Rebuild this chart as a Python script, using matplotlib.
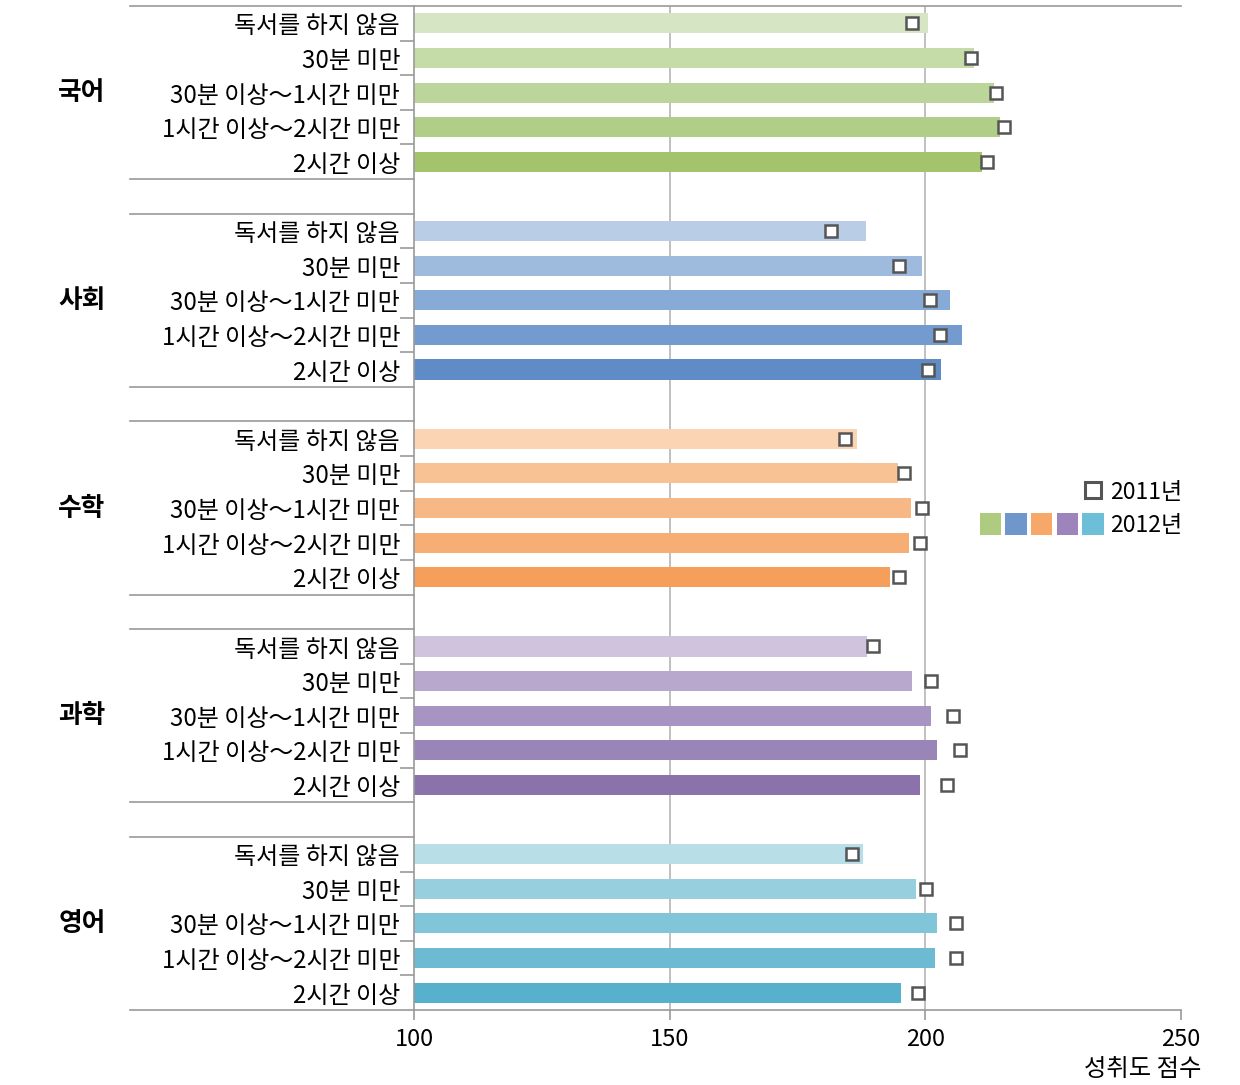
import matplotlib

matplotlib.use("Agg")
import matplotlib.pyplot as plt
from matplotlib.legend_handler import HandlerTuple
from matplotlib.lines import Line2D
from matplotlib.patches import Patch

plt.rcParams["font.family"] = ["Noto Sans CJK KR", "DejaVu Sans"]

subjects = ["국어", "사회", "수학", "과학", "영어"]
levels = [
    "독서를 하지 않음",
    "30분 미만",
    "30분 이상～1시간 미만",
    "1시간 이상～2시간 미만",
    "2시간 이상",
]
score_2012 = {
    "국어": [200.5, 209.6, 213.4, 214.6, 211.0],
    "사회": [188.3, 199.3, 204.8, 207.2, 203.1],
    "수학": [186.6, 194.7, 197.1, 196.9, 193.0],
    "과학": [188.5, 197.3, 201.2, 202.3, 199.0],
    "영어": [187.8, 198.1, 202.2, 201.9, 195.2],
}
score_2011 = {
    "국어": [197.3, 209.0, 213.8, 215.3, 212.1],
    "사회": [181.6, 194.9, 200.9, 202.9, 200.6],
    "수학": [184.2, 195.8, 199.4, 199.0, 194.9],
    "과학": [189.8, 201.1, 205.4, 206.8, 204.2],
    "영어": [185.7, 200.1, 205.9, 205.9, 198.6],
}
x_ticks = [100, 150, 200, 250]

# five shades per subject, light to dark, plus the legend swatch
palette = {
    "국어": ["#d6e5c4", "#c6dca8", "#bbd59b", "#b0ce87", "#a3c46c"],
    "사회": ["#b9cde6", "#9ebbde", "#87aad6", "#739bcf", "#5f8cc6"],
    "수학": ["#fbd4b4", "#f9c295", "#f8b885", "#f7ae74", "#f59f5a"],
    "과학": ["#d0c3de", "#b9a8cd", "#a794c2", "#9a85b9", "#8b72ab"],
    "영어": ["#b8dfe8", "#98cfde", "#81c5d8", "#6cbbd2", "#58b1cc"],
}
swatch = ["#aecb7f", "#6f97cc", "#f7a868", "#9d85bc", "#6cbfd6"]
grey = "#9a9a9a"

fig = plt.figure(figsize=(12.4, 10.85), dpi=100)
ax = fig.add_axes([414 / 1240, 1 - 1010 / 1085, 767 / 1240, 1004 / 1085])

n_rows = len(levels)
step = n_rows + 1
left_ext = -284 / 767

ytick_pos, ytick_lab, minor_pos = [], [], []
for g, subj in enumerate(subjects):
    ys = [g * step + r for r in range(n_rows)]
    ax.barh(ys, score_2012[subj], left=0, height=0.58, color=palette[subj], zorder=2)
    ax.plot(
        score_2011[subj], ys, "s", ms=9, mfc="white", mec="#555555", mew=1.8,
        zorder=4, clip_on=False,
    )
    ytick_pos += ys
    ytick_lab += levels
    minor_pos += [g * step + r + 0.5 for r in range(n_rows - 1)]
    # group separators reaching into the label column
    for yb in (g * step - 0.5, g * step + n_rows - 0.5):
        ax.plot(
            [left_ext, 0], [yb, yb], color=grey, lw=1.2,
            transform=ax.get_yaxis_transform(), clip_on=False,
        )
    ax.text(
        -0.433, g * step + 2, subj, transform=ax.get_yaxis_transform(),
        ha="center", va="center", fontsize=18.5, fontweight="bold",
    )

ax.set_xlim(100, 250)
ax.set_ylim(len(subjects) * step - 1.5, -0.5)
ax.set_xticks(x_ticks)
ax.set_xticklabels([str(t) for t in x_ticks], fontsize=17)
ax.set_yticks(ytick_pos)
ax.set_yticklabels(ytick_lab, fontsize=17.3)
ax.set_yticks(minor_pos, minor=True)
ax.tick_params(axis="y", which="major", length=0, pad=10)
ax.tick_params(axis="y", which="minor", length=10, color=grey, width=1.2)
ax.tick_params(axis="x", length=7, color=grey, width=1.2, pad=6)

for x in (150, 200):
    ax.axvline(x, color="#b5b5b5", lw=1.2, zorder=1)

ax.spines["right"].set_visible(False)
for side in ("left", "top", "bottom"):
    ax.spines[side].set_color(grey)
    ax.spines[side].set_linewidth(1.2)

fig.text(1201 / 1240, 1 - 1069 / 1085, "성취도 점수", ha="right", va="center", fontsize=17.5)

blank = Patch(facecolor="none", edgecolor="none")
marker = Line2D([], [], ls="none", marker="s", ms=12, mfc="white", mec="#555555", mew=2.2)
h2011 = (blank, blank, blank, blank, marker)
h2012 = tuple(Patch(facecolor=c, edgecolor="none") for c in swatch)
fig.legend(
    [h2011, h2012], ["2011년", "2012년"],
    handler_map={tuple: HandlerTuple(ndivide=None, pad=0.2)},
    loc="upper right", bbox_to_anchor=(1194 / 1240, 1 - 469 / 1085),
    frameon=False, fontsize=16.5, handlelength=5.4, handleheight=1.1,
    handletextpad=0.3, labelspacing=0.4, borderpad=0,
)

fig.savefig("out.png", dpi=100)
